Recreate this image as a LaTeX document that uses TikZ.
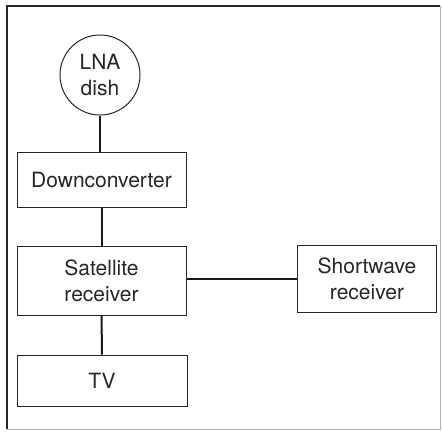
\documentclass[tikz,border=0pt]{standalone}
\usepackage{fontspec}
\setmainfont{TeX Gyre Heros}
\begin{document}
\begin{tikzpicture}[x=1pt,y=-1pt,
  blk/.style={draw=black!85,line width=1pt,rectangle,inner sep=0pt,align=center,font=\fontsize{21}{26}\selectfont,text=black!85},
  conn/.style={draw=black!90,line width=2pt},
  frm/.style={draw=black!85,line width=1.8pt}]
\useasboundingbox (0,0) rectangle (442,437);
\draw[frm] (7,429) -- (7,6) -- (440,6);
\draw[draw=black!30,line width=0.8pt] (440,6) -- (440,429) -- (7,429);
\node[blk,circle,minimum size=80pt] (lna) at (100,75) {LNA\\dish};
\node[blk,minimum width=169pt,minimum height=55pt] (dc) at (101.5,179.5) {Downconverter};
\node[blk,minimum width=169pt,minimum height=69pt] (sat) at (101.5,280.5) {Satellite\\receiver};
\node[blk,minimum width=170pt,minimum height=51pt] (tv) at (102,380.5) {TV};
\node[blk,minimum width=139pt,minimum height=67pt] (sw) at (367,278.5) {Shortwave\\receiver};
\draw[conn] (lna.south) -- (lna.south |- dc.north);
\draw[conn] (dc.south) -- (sat.north);
\draw[conn] (sat.south) -- (tv.north);
\draw[conn] (sat.east |- sw.west) -- (sw.west);
\end{tikzpicture}
\end{document}
